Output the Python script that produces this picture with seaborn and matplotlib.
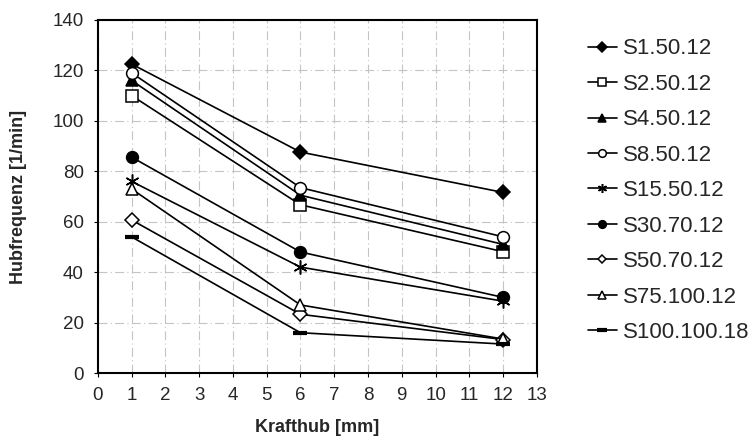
import matplotlib
matplotlib.use("Agg")
import matplotlib.pyplot as plt
import seaborn as sns
import pandas as pd

x_values = [1, 6, 12]
series_names = ["S1.50.12", "S2.50.12", "S4.50.12", "S8.50.12", "S15.50.12",
                "S30.70.12", "S50.70.12", "S75.100.12", "S100.100.18"]
s1_50_12 = [122.5, 87.6, 71.6]
s2_50_12 = [110.0, 66.7, 48.1]
s4_50_12 = [116.0, 70.5, 51.0]
s8_50_12 = [119.0, 73.5, 54.0]
s15_50_12 = [76.0, 42.0, 28.5]
s30_70_12 = [85.6, 48.0, 30.0]
s50_70_12 = [60.7, 23.3, 13.3]
s75_100_12 = [73.0, 27.0, 13.5]
s100_100_18 = [54.0, 16.0, 11.5]
all_values = [s1_50_12, s2_50_12, s4_50_12, s8_50_12, s15_50_12,
              s30_70_12, s50_70_12, s75_100_12, s100_100_18]

x_ticks = list(range(0, 14))
y_ticks = list(range(0, 141, 20))

sns.set_theme(style="white")
plt.rcParams["font.family"] = ["Liberation Sans", "DejaVu Sans"]

rows = []
for name, vals in zip(series_names, all_values):
    for xv, yv in zip(x_values, vals):
        rows.append({"Krafthub": xv, "Hubfrequenz": yv, "Serie": name})
df = pd.DataFrame(rows)

styles = {
    "S1.50.12": dict(marker="D", ms=7.5, mfc="black", mec="black"),
    "S2.50.12": dict(marker="s", ms=8, mfc="white", mec="black"),
    "S4.50.12": dict(marker="^", ms=8.5, mfc="black", mec="black"),
    "S8.50.12": dict(marker="o", ms=8.5, mfc="white", mec="black"),
    "S15.50.12": dict(marker=(6, 2, 0), ms=10, mfc="black", mec="black"),
    "S30.70.12": dict(marker="o", ms=8.5, mfc="black", mec="black"),
    "S50.70.12": dict(marker="D", ms=7, mfc="white", mec="black"),
    "S75.100.12": dict(marker="^", ms=9, mfc="white", mec="black"),
    "S100.100.18": dict(marker="_", ms=10, mfc="black", mec="black", mew=3),
}

fig = plt.figure(figsize=(7.52, 4.41), dpi=100)
ax = fig.add_axes([0.130, 0.154, 0.584, 0.801])

for name in series_names:
    st = dict(styles[name])
    mew = st.pop("mew", 1.1)
    sub = df[df["Serie"] == name]
    sns.lineplot(data=sub, x="Krafthub", y="Hubfrequenz", ax=ax, color="black",
                 linewidth=1.2, markeredgewidth=mew, label=name, zorder=3,
                 **st)

ax.set_xlim(0, 13)
ax.set_ylim(0, 140)
ax.set_xticks(x_ticks)
ax.set_yticks(y_ticks)
ax.tick_params(axis="both", labelsize=13.5, direction="out", length=3,
               width=0.8, color="black", left=True, bottom=True, pad=7)
ax.grid(True, color="#c4c4c4", linestyle=(0, (8, 3, 1, 3)), linewidth=0.8)
for sp in ax.spines.values():
    sp.set_visible(True)
    sp.set_color("black")
    sp.set_linewidth(1.5)

ax.set_xlabel("Krafthub [mm]", fontsize=13, fontweight="bold", labelpad=11)
ax.set_ylabel("Hubfrequenz [1/min]", fontsize=13, fontweight="bold", labelpad=18)

ax.legend(loc="upper left", bbox_to_anchor=(0.770, 0.933),
          bbox_transform=fig.transFigure, frameon=False, fontsize=16,
          handlelength=1.3, handletextpad=0.27, labelspacing=0.65,
          markerscale=0.65, borderaxespad=0)

fig.savefig("out.png", dpi=100)
